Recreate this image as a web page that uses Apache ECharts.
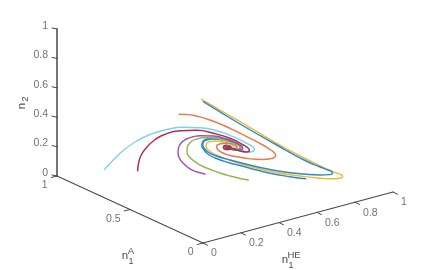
<!DOCTYPE html>
<html><head><meta charset="utf-8">
<style>html,body{margin:0;padding:0;background:#fff}#c{width:434px;height:270px}</style>
<script src="https://cdn.jsdelivr.net/npm/echarts@6/dist/echarts.min.js"></script>
</head><body><div id="c"></div>
<script>
// Tick values of the three data axes
const ticksHE = [0,0.2,0.4,0.6,0.8,1];
const ticksA  = [0,0.5,1];
const ticksN2 = [0,0.2,0.4,0.6,0.8,1];
// Trajectories as read in the picture's view plane (horizontal, vertical)
const trajCyan = [[104.7,169.3],[113.3,160],[123.3,150.5],[136.7,141],[150,134.5],[166.7,129.5],[183.3,127.3],[200,127.7],[216.7,130.7],[233.3,136.7],[246.7,143.3],[252.5,146.5],[254.3,149],[252,151.7],[248,152],[242,150.5],[236.7,148.3],[231,146],[226,145],[223.5,147],[226,149.5],[230,149],[231,147],[228,146.2],[226.5,147.5]];
const trajRed = [[137.7,170.7],[138.6,163],[141.5,154.5],[147,147],[154,140.5],[163.3,135],[180,130.7],[196.7,130.3],[213.3,133.3],[230,138.3],[243.3,145],[248.5,148.5],[249.3,150.5],[247,152],[242,151.5],[236.7,150],[229,147.3],[225,145.8],[223.3,147],[225,149],[229,149.5],[231,148],[229,146.3],[226.7,146.5],[226.5,148],[228.5,148.2],[228.8,147]];
const trajPurple = [[205,174],[199,172.5],[193.3,170.7],[188,167.5],[183.3,163.3],[179.5,158.5],[178,153],[178.5,148],[181,143],[186.7,139],[193,136.8],[200,135.7],[213.3,136],[226.7,139],[238.3,144],[242,146.5],[242.7,148.5],[240,150],[235,149.7],[230,148.3],[225.5,146.3],[223.8,147.5],[226,149.5],[230,148.8],[229.5,146.5],[227,147]];
const trajGreen = [[248.3,180],[239,178.2],[230,176],[220,173],[210,169.3],[202,166],[195,161.7],[190,157.5],[187.3,153.3],[187,149],[188.3,145],[192,141],[196.7,139],[203,137.8],[210,137.7],[223.3,140],[235,144],[240,146.3],[241.7,148],[239.5,149.5],[235,149.5],[230,147.7],[225.5,146.3],[224.5,148],[227,149.3],[230,148],[228,146.7]];
const trajOrange = [[179.3,114.3],[186,114.5],[193.3,115.3],[210,120],[230,128.3],[250,138.3],[262,144.5],[270,149.5],[274.5,153],[275.7,155.5],[274,157.7],[270,158.8],[263,159.4],[256.7,159.3],[246,158.3],[236.7,156.7],[228.3,155],[221,152],[217,148.5],[216.7,146],[218.5,144.5],[222,143.6],[226,143.2],[230,143.4],[234,144.5],[236.7,146.2],[236,148],[233.3,149.2],[229.5,149],[226,147.5],[226.5,146],[229.5,146.5],[229,148],[227.5,147.5]];
const trajBlue1 = [[203.3,101.7],[240,124],[276.7,145],[305,160.5],[320,167],[328,170],[331.8,171.6],[332.5,173],[330,174.6],[320,175],[303.3,174],[290,172.7],[270,169.5],[256.7,166.7],[230,160],[215,155.5],[208,152],[204,148],[202.8,144.5],[204,141.5],[207.5,139.8],[212,139],[218.3,139.2],[228.3,141],[236,143.7],[240,146],[240,148.2],[236,149.5],[231.5,149],[226,147.2],[224.5,146.5],[225,148.5],[228.5,149.2],[230,147.5],[228,146.8],[227,147.6]];
const trajYellow = [[201.7,99.3],[240,121.7],[276.7,143.3],[305,158.5],[326.7,169],[336,172.8],[341.5,175],[342.7,176.5],[341,178],[335,178.8],[325,178.6],[313.3,177.5],[290,174.8],[270,171.3],[256.7,168.3],[230,160.2],[215,154.5],[209,150.5],[206,146.5],[206.5,143.5],[210,141.5],[216,141],[222,141.8],[233,145],[237.5,147],[237,148.5],[233,149.3],[228,148.5],[226,146.8],[228,146.5]];
const trajBlue2 = [[305.7,178.8],[290,176.7],[270,173.3],[256.7,170],[240,165.5],[228,162.5],[215,158],[208.5,154.5],[204,150],[201.8,146],[202.3,142.5],[205,139.8],[209,138.3],[216.7,138],[228.3,140.4],[238.3,144.3],[242,147],[241,149],[237,150],[231.5,149.5],[226.5,148],[224.5,146.5],[226,145.3],[229.5,146],[230.5,148],[228,148.3],[227,147]];

const AXIS = '#484848', TXT = '#4d4d4d';
// Oblique view of the three data axes onto the plane
const project = (h,a,n) => [203+190*h-146*a, 243-51*h-67*a-147*n];
const add = (p,dx,dy) => [p[0]+dx,p[1]+dy];

function line(data,color,width,z){
  return {type:'line',data,showSymbol:false,symbol:'none',silent:true,z:z||2,
    lineStyle:{color,width,cap:'round',join:'round'},smooth:false};
}
function curve(data,color){
  return {type:'line',data,showSymbol:false,symbol:'none',silent:true,z:3,smooth:0.5,smoothMonotone:null,
    lineStyle:{color,width:1.45,cap:'round',join:'round'}};
}
function labels(data,align){
  return {type:'scatter',symbolSize:0,silent:true,z:5,
    data:data.map(d=>({value:d.p,label:{show:true,formatter:d.t,position:'inside',align,verticalAlign:'middle',
      color:TXT,fontFamily:'Liberation Sans',fontSize:10.5}}))};
}
const series = [];
series.push(line([project(0,1,0),project(0,1,1)],'#666666',1.8));
series.push(line([project(0,1,0),project(0,0,0)],AXIS,1.1));
series.push(line([project(0,0,0),project(1,0,0)],AXIS,1.1));
ticksN2.forEach(v=>{const p=project(0,1,v);series.push(line([p,add(p,-5,-1)],AXIS,1));});
ticksA.forEach(v=>{const p=project(0,v,0);series.push(line([p,add(p,-5.7,1.5)],AXIS,1));});
ticksHE.forEach(v=>{const p=project(v,0,0);series.push(line([p,add(p,4.5,2.2)],AXIS,1));});
series.push(labels(ticksN2.map(v=>({p:add(project(0,1,v),-9,-3),t:String(v)})),'right'));
series.push(labels(ticksA.map(v=>({p:add(project(0,v,0),-9.5,9.5),t:String(v)})),'right'));
series.push(labels(ticksHE.map(v=>({p:add(project(v,0,0),8,10.5),t:String(v)})),'left'));
series.push(curve(trajCyan,'#7fd0f2'));
series.push(curve(trajBlue2,'#2f8ac6'));
series.push(curve(trajYellow,'#f0b93a'));
series.push(curve(trajBlue1,'#2f8ac6'));
series.push(curve(trajOrange,'#e67a4e'));
series.push(curve(trajGreen,'#8fbb4c'));
series.push(curve(trajPurple,'#a351b8'));
series.push(curve(trajRed,'#ab2f50'));

const t = (x,y,text,size,rot) => ({type:'text',x,y,rotation:rot||0,style:{text,fontFamily:'Liberation Sans',fontSize:size,fill:TXT,align:'center',verticalAlign:'middle'}});
const chart = echarts.init(document.getElementById('c'),null,{renderer:'canvas'});
chart.setOption({
  animation:false,backgroundColor:'#fff',
  grid:{left:0,right:0,top:0,bottom:0},
  xAxis:{type:'value',min:0,max:434,show:false},
  yAxis:{type:'value',min:0,max:270,inverse:true,show:false},
  series,
  graphic:[
    t(22,106,'n',11.5,Math.PI/2), t(25.5,99,'2',9.5,Math.PI/2),
    t(125,256,'n',11.5), t(131,262,'1',9), t(131,251,'A',9.5),
    t(285,260,'n',11.5), t(291,266,'1',9), t(294,255,'HE',9.5)
  ]
});
</script></body></html>
